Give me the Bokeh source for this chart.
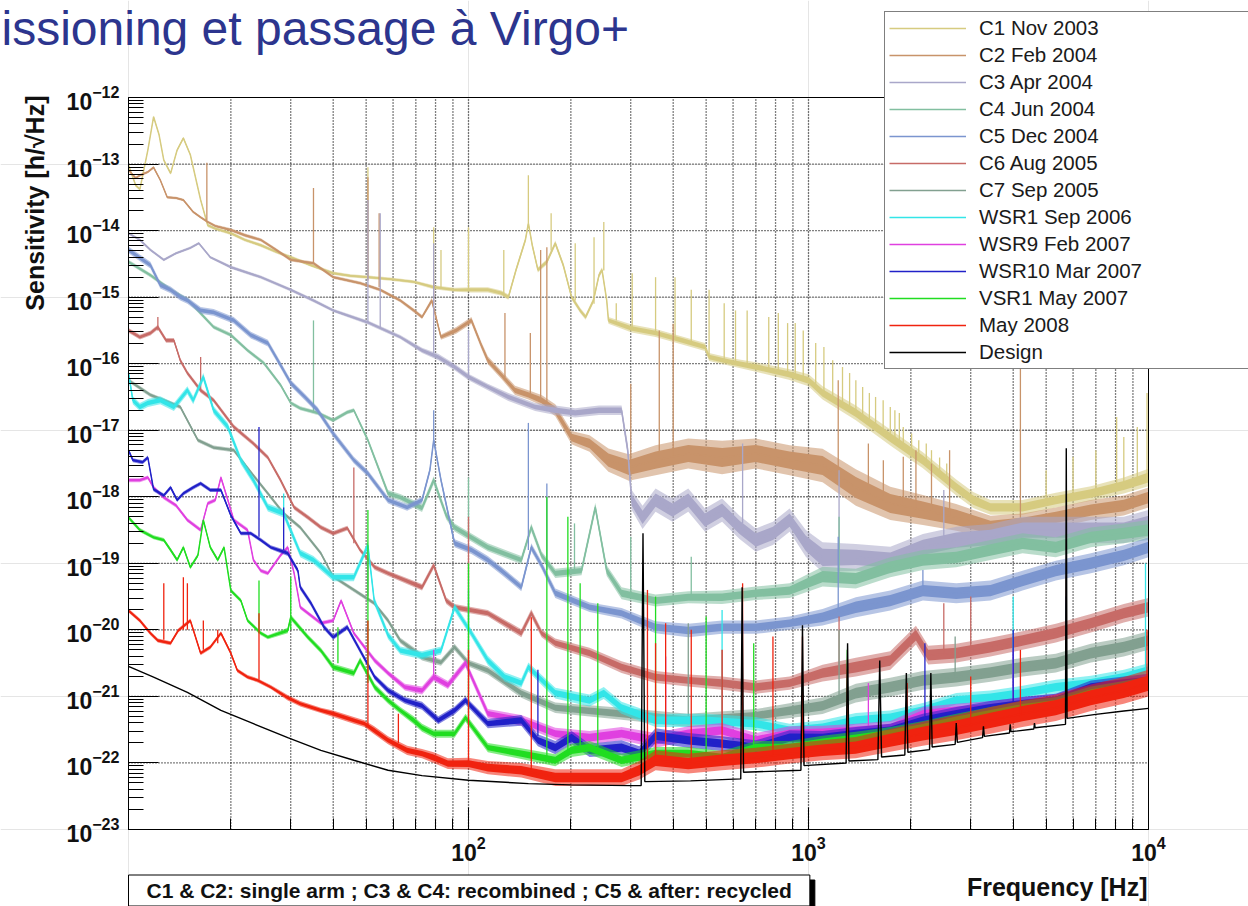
from math import pi

import numpy as np
from bokeh.embed import file_html
from bokeh.models import FixedTicker, Label, Legend, LegendItem, LogAxis, Range1d
from bokeh.plotting import figure
from bokeh.resources import INLINE

FONT = "Liberation Sans"

# ---------------------------------------------------------------------------
# Axis ticks
# ---------------------------------------------------------------------------
x_major = [100, 1000, 10000]
x_minor = [m * 10 ** e for e in (1, 2, 3) for m in range(2, 10)]
y_major = [10.0 ** e for e in range(-23, -11)]
y_minor = [m * 10.0 ** e for e in range(-23, -12) for m in range(2, 10)]
x_limits = (10, 1e4)
y_limits = (1e-23, 1e-12)

# ---------------------------------------------------------------------------
# Sensitivity curves: (frequency [Hz], log10 h, noise band width [decades])
# Spikes: (frequency [Hz], log10 h at foot, log10 h at top)
# ---------------------------------------------------------------------------
c1_trace = [
    (10, -13.02, 0.04), (10.5, -13.32, 0.04), (10.8, -13.38, 0.04), (11.4, -12.79, 0.04),
    (11.85, -12.29, 0.04), (12.3, -12.56, 0.04), (12.7, -12.94, 0.04), (13.3, -13.14, 0.04),
    (13.9, -12.79, 0.04), (14.5, -12.61, 0.04), (15.2, -12.86, 0.04), (16.3, -13.54, 0.04),
    (17.1, -13.92, 0.05), (18, -13.97, 0.05), (20, -14.04, 0.05), (22, -14.14, 0.05),
    (24.5, -14.22, 0.05), (27.2, -14.32, 0.05), (30, -14.40, 0.05), (34.4, -14.52, 0.05),
    (40, -14.64, 0.05), (45, -14.68, 0.05), (50.6, -14.70, 0.05), (59, -14.73, 0.05),
    (69, -14.77, 0.05), (79, -14.85, 0.06), (91, -14.89, 0.06), (102, -14.89, 0.08),
    (114, -14.89, 0.08), (125, -14.94, 0.08), (131, -15.00, 0.08), (138, -14.59, 0.08),
    (147, -14.14, 0.08), (150, -13.89, 0.08), (154, -14.22, 0.08), (160, -14.59, 0.08),
    (170, -14.47, 0.08), (180, -14.19, 0.08), (190, -14.52, 0.08), (201, -15.00, 0.08),
    (213, -15.20, 0.08), (221, -15.30, 0.08), (233, -15.05, 0.08), (242, -14.67, 0.08),
    (247, -14.59, 0.08), (255, -15.05, 0.08), (258, -15.35, 0.10), (302, -15.47, 0.12),
    (355, -15.54, 0.12), (425, -15.65, 0.12), (496, -15.75, 0.12), (510, -15.90, 0.12),
    (595, -15.98, 0.12), (700, -16.05, 0.14), (875, -16.16, 0.16), (1000, -16.25, 0.18),
    (1100, -16.44, 0.20), (1378, -16.74, 0.22), (1740, -17.11, 0.24), (2170, -17.45, 0.24),
    (2720, -17.86, 0.24), (3050, -18.05, 0.24), (3430, -18.16, 0.22), (4260, -18.16, 0.22),
    (5340, -18.05, 0.22), (6770, -17.95, 0.22), (8460, -17.83, 0.24), (10000, -17.71, 0.26),
]
c1_spikes = [
    (50.6, -14.70, -13.05), (79, -14.85, -13.95), (83, -14.87, -14.29), (100, -14.89, -13.95),
    (127, -14.94, -14.29), (150, -13.89, -13.17), (175, -14.30, -13.74), (206, -15.05, -14.19),
    (234, -15.10, -14.10), (250, -14.60, -13.87), (272, -15.35, -15.09), (303, -15.47, -14.64),
    (355, -15.54, -14.70), (405, -15.62, -14.70), (452, -15.70, -14.89), (510, -15.90, -14.89),
    (565, -15.95, -15.09), (610, -15.97, -15.20), (660, -16.00, -15.20), (764, -16.10, -15.30),
    (815, -16.13, -15.24), (868, -16.15, -15.39), (914, -16.18, -15.39), (965, -16.22, -15.50),
    (1050, -16.30, -15.69), (1110, -16.44, -15.75), (1178, -16.52, -15.95), (1259, -16.62, -16.05),
    (1321, -16.68, -16.14), (1378, -16.74, -16.25), (1443, -16.80, -16.35), (1510, -16.86, -16.44),
    (1575, -16.95, -16.50), (1658, -17.02, -16.55), (1740, -17.11, -16.65), (1795, -17.15, -16.70),
    (1850, -17.20, -16.74), (1900, -17.25, -16.95), (2010, -17.33, -17.05), (2110, -17.40, -17.15),
    (2220, -17.50, -17.20), (2300, -17.55, -17.30), (2430, -17.65, -17.41), (2550, -17.75, -17.50),
    (5000, -18.10, -17.60), (6000, -18.00, -17.40), (7000, -17.95, -17.30), (8060, -17.85, -16.80),
    (8460, -17.85, -17.10), (9270, -17.78, -16.95), (9900, -17.72, -16.44),
]

c2_trace = [
    (10, -13.09, 0.04), (10.5, -13.21, 0.04), (10.8, -13.17, 0.04), (11.4, -13.12, 0.04),
    (11.85, -13.05, 0.04), (12.4, -13.24, 0.04), (13.0, -13.50, 0.04), (13.8, -13.51, 0.04),
    (14.5, -13.54, 0.04), (15.5, -13.72, 0.04), (16.3, -13.80, 0.04), (17.1, -13.87, 0.04),
    (18, -13.93, 0.04), (20, -13.99, 0.05), (22, -14.07, 0.05), (24.5, -14.14, 0.05),
    (27.2, -14.29, 0.05), (30, -14.44, 0.05), (35, -14.49, 0.05), (40, -14.70, 0.05),
    (48, -14.79, 0.05), (55, -14.89, 0.05), (63, -15.05, 0.05), (69, -15.20, 0.06),
    (73, -15.30, 0.06), (78, -15.05, 0.08), (83, -15.60, 0.08), (92, -15.50, 0.10),
    (102, -15.35, 0.10), (109, -15.72, 0.10), (114, -15.95, 0.12), (125, -16.17, 0.12),
    (137, -16.40, 0.14), (150, -16.47, 0.14), (164, -16.55, 0.16), (180, -16.70, 0.18),
    (201, -17.11, 0.20), (227, -17.20, 0.25), (258, -17.45, 0.35), (296, -17.56, 0.40),
    (355, -17.45, 0.45), (443, -17.35, 0.45), (557, -17.41, 0.50), (700, -17.35, 0.45),
    (880, -17.45, 0.45), (1100, -17.53, 0.50), (1378, -17.86, 0.55), (1740, -18.10, 0.50),
    (2170, -18.20, 0.45), (2720, -18.31, 0.40), (3430, -18.46, 0.35), (4260, -18.40, 0.30),
    (5340, -18.31, 0.30), (6770, -18.20, 0.30), (8460, -18.13, 0.30), (10000, -18.01, 0.30),
]
c2_spikes = [
    (17, -13.85, -12.98), (35, -14.49, -13.36), (50.6, -14.75, -13.20), (54.6, -14.85, -13.74),
    (79, -15.10, -14.74), (128, -16.20, -15.24), (152, -16.45, -15.54), (163, -16.50, -14.29),
    (170, -16.60, -14.25), (300, -17.50, -16.30), (364, -17.40, -15.50), (400, -17.40, -15.40),
    (1223, -17.70, -16.25), (1500, -17.90, -17.20), (1660, -18.00, -17.45), (1900, -18.10, -17.40),
    (2070, -18.20, -17.30), (2300, -18.20, -17.50), (2600, -18.30, -17.30), (4200, -18.45, -15.65),
]

c3_trace = [
    (10, -14.04, 0.04), (10.8, -14.14, 0.04), (11.6, -14.29, 0.04), (12.7, -14.44, 0.04),
    (13.8, -14.34, 0.04), (15.2, -14.26, 0.04), (16.1, -14.19, 0.04), (17.4, -14.40, 0.04),
    (20, -14.55, 0.05), (24.5, -14.70, 0.05), (30, -14.89, 0.05), (35, -15.05, 0.05),
    (40, -15.20, 0.05), (50.6, -15.38, 0.06), (63, -15.60, 0.06), (73, -15.80, 0.08),
    (81.5, -15.90, 0.10), (91, -16.05, 0.10), (100, -16.20, 0.10), (114, -16.35, 0.10),
    (131, -16.50, 0.12), (157, -16.65, 0.12), (180, -16.70, 0.14), (206, -16.74, 0.14),
    (242, -16.70, 0.14), (282, -16.70, 0.14), (294, -17.30, 0.20), (302, -18.05, 0.30),
    (325, -18.31, 0.35), (355, -18.05, 0.35), (398, -18.20, 0.35), (443, -18.05, 0.35),
    (496, -18.35, 0.35), (557, -18.20, 0.35), (627, -18.46, 0.35), (700, -18.65, 0.35),
    (786, -18.55, 0.35), (880, -18.35, 0.35), (982, -18.70, 0.40), (1100, -18.91, 0.45),
    (1378, -18.91, 0.40), (1740, -18.95, 0.40), (2170, -18.76, 0.40), (2720, -18.65, 0.40),
    (3430, -18.61, 0.40), (4260, -18.50, 0.40), (5340, -18.50, 0.40), (6770, -18.50, 0.40),
    (8460, -18.50, 0.40), (10000, -18.40, 0.40),
]
c3_spikes = [
    (50.6, -15.38, -13.54), (55, -15.45, -13.74), (79, -15.85, -14.19), (100, -16.20, -15.50),
    (640, -18.40, -17.20), (1230, -18.90, -17.60), (2500, -18.70, -17.90),
]

c4_trace = [
    (10, -14.47, 0.06), (11.6, -14.67, 0.06), (13.3, -14.89, 0.06), (15, -15.05, 0.06),
    (17.8, -15.45, 0.06), (20, -15.57, 0.06), (22.4, -15.80, 0.06), (25, -15.99, 0.06),
    (28, -16.32, 0.06), (30, -16.59, 0.06), (32, -16.67, 0.06), (36, -16.74, 0.06),
    (40, -16.85, 0.06), (44, -16.73, 0.06), (46, -16.70, 0.06), (50.6, -17.15, 0.08),
    (58, -17.95, 0.10), (63, -18.01, 0.10), (73, -18.17, 0.12), (79, -17.75, 0.12),
    (86, -18.28, 0.12), (91, -18.46, 0.12), (114, -18.76, 0.12), (143, -18.95, 0.12),
    (153, -18.46, 0.12), (164, -18.88, 0.12), (180, -19.15, 0.14), (215, -19.11, 0.14),
    (236, -18.16, 0.14), (255, -19.11, 0.16), (282, -19.45, 0.18), (355, -19.56, 0.18),
    (443, -19.51, 0.18), (557, -19.51, 0.20), (700, -19.45, 0.20), (880, -19.41, 0.22),
    (1100, -19.20, 0.30), (1378, -19.23, 0.30), (1740, -19.06, 0.30), (2170, -18.95, 0.30),
    (2720, -18.91, 0.30), (3430, -18.80, 0.30), (4260, -18.70, 0.30), (5340, -18.76, 0.30),
    (6770, -18.61, 0.30), (8460, -18.55, 0.30), (10000, -18.50, 0.30),
]
c4_spikes = [
    (35, -16.74, -15.35), (100, -18.60, -17.71), (205, -19.15, -18.40), (300, -19.50, -18.60),
    (452, -19.50, -18.90), (1230, -19.20, -18.30),
]

c5_trace = [
    (10, -14.29, 0.10), (10.8, -14.41, 0.10), (11.6, -14.52, 0.10), (12.4, -14.82, 0.10),
    (13.3, -14.89, 0.10), (14.2, -15.00, 0.10), (14.9, -15.05, 0.10), (16.3, -15.20, 0.10),
    (17.8, -15.23, 0.10), (20.4, -15.35, 0.10), (22.9, -15.57, 0.10), (25.7, -15.69, 0.10),
    (28, -16.02, 0.10), (30, -16.29, 0.10), (33, -16.50, 0.10), (36, -16.70, 0.10),
    (40, -17.05, 0.10), (46, -17.45, 0.10), (50.6, -17.65, 0.10), (58, -18.05, 0.10),
    (66, -18.16, 0.10), (73, -18.05, 0.10), (77, -17.60, 0.10), (79, -17.15, 0.10),
    (83, -17.75, 0.10), (91, -18.70, 0.12), (102, -18.80, 0.12), (114, -18.95, 0.12),
    (125, -19.11, 0.12), (143, -19.36, 0.12), (153, -18.76, 0.12), (164, -19.03, 0.12),
    (180, -19.45, 0.14), (227, -19.66, 0.14), (282, -19.75, 0.16), (355, -19.96, 0.18),
    (443, -20.01, 0.20), (557, -19.96, 0.20), (700, -19.96, 0.20), (880, -19.90, 0.20),
    (1100, -19.81, 0.25), (1378, -19.66, 0.30), (1740, -19.56, 0.30), (2170, -19.41, 0.30),
    (2720, -19.45, 0.30), (3430, -19.41, 0.30), (4260, -19.26, 0.30), (5340, -19.11, 0.30),
    (6770, -19.00, 0.30), (8460, -18.88, 0.30), (10000, -18.76, 0.30),
]
c5_spikes = [
    (79, -17.20, -16.70), (150, -18.80, -16.89), (170, -19.10, -17.80), (1223, -19.75, -18.60),
    (2170, -19.40, -19.10),
]

c6_trace = [
    (10, -15.50, 0.07), (10.8, -15.60, 0.07), (11.6, -15.54, 0.07), (12.2, -15.45, 0.07),
    (12.9, -15.65, 0.07), (13.6, -15.65, 0.07), (14.2, -15.95, 0.07), (14.9, -16.14, 0.07),
    (16.3, -16.40, 0.07), (17.8, -16.55, 0.07), (20.4, -16.95, 0.07), (23.3, -17.20, 0.07),
    (25.7, -17.41, 0.07), (28, -17.75, 0.07), (30.7, -18.16, 0.07), (33.7, -18.31, 0.07),
    (36.8, -18.46, 0.07), (40, -18.55, 0.07), (44, -18.47, 0.07), (48, -18.80, 0.07),
    (53, -19.06, 0.08), (58, -19.15, 0.08), (73, -19.36, 0.10), (79, -19.03, 0.10),
    (86, -19.56, 0.10), (91, -19.66, 0.10), (114, -19.75, 0.10), (143, -20.05, 0.12),
    (153, -19.75, 0.12), (164, -20.05, 0.12), (180, -20.20, 0.14), (227, -20.35, 0.16),
    (282, -20.56, 0.18), (355, -20.71, 0.18), (443, -20.76, 0.18), (557, -20.80, 0.20),
    (700, -20.86, 0.20), (880, -20.80, 0.20), (1100, -20.65, 0.25), (1378, -20.56, 0.28),
    (1740, -20.46, 0.28), (2070, -20.08, 0.28), (2250, -20.38, 0.28), (2720, -20.35, 0.28),
    (3430, -20.26, 0.28), (4260, -20.16, 0.28), (5340, -20.05, 0.28), (6770, -19.90, 0.28),
    (8460, -19.75, 0.28), (10000, -19.66, 0.28),
]
c6_spikes = [
    (12.2, -15.50, -15.30), (16.3, -16.40, -15.90), (46, -18.70, -17.56), (100, -19.70, -18.30),
    (1230, -20.60, -19.80), (2500, -20.35, -19.60), (3000, -20.30, -19.50), (5730, -20.00, -19.20),
]

c7_trace = [
    (10, -16.25, 0.06), (11.6, -16.47, 0.06), (14.2, -16.65, 0.06), (16, -17.15, 0.06),
    (17.8, -17.26, 0.06), (20.4, -17.30, 0.06), (23.3, -17.68, 0.06), (25.7, -17.95, 0.06),
    (28.6, -18.25, 0.06), (32, -18.46, 0.06), (36.8, -18.85, 0.06), (40, -19.20, 0.06),
    (46, -19.40, 0.06), (52.8, -19.60, 0.06), (58, -19.86, 0.08), (63, -20.16, 0.08),
    (69, -20.31, 0.10), (73, -20.41, 0.10), (83, -20.49, 0.10), (91, -20.26, 0.10),
    (100, -20.50, 0.10), (114, -20.61, 0.12), (143, -20.95, 0.14), (180, -21.17, 0.16),
    (282, -21.26, 0.18), (443, -21.36, 0.20), (700, -21.29, 0.20), (1100, -21.14, 0.25),
    (1378, -20.95, 0.28), (1740, -20.86, 0.28), (2170, -20.76, 0.28), (2720, -20.71, 0.28),
    (3430, -20.64, 0.28), (4260, -20.56, 0.28), (5340, -20.50, 0.28), (6770, -20.35, 0.28),
    (8460, -20.26, 0.28), (10000, -20.16, 0.28),
]
c7_spikes = [
    (50.6, -19.50, -18.80), (100, -20.50, -19.60), (443, -21.30, -19.90), (1230, -21.00, -20.00),
    (2700, -20.70, -20.10),
]

wsr1_trace = [
    (10, -16.14, 0.12), (10.3, -16.55, 0.12), (10.8, -16.65, 0.12), (11.4, -16.59, 0.12),
    (12.4, -16.55, 0.12), (13.6, -16.65, 0.12), (14.9, -16.40, 0.12), (15.5, -16.55, 0.12),
    (16.6, -16.20, 0.12), (17.8, -16.70, 0.12), (19.6, -16.95, 0.12), (21.4, -17.45, 0.12),
    (23.3, -17.75, 0.12), (25.7, -18.16, 0.12), (28.6, -18.25, 0.12), (32, -18.85, 0.12),
    (35, -18.95, 0.12), (40, -19.21, 0.12), (46, -19.21, 0.12), (50.6, -18.73, 0.12),
    (52.8, -19.56, 0.12), (58, -20.08, 0.12), (63, -20.31, 0.12), (73, -20.38, 0.12),
    (83, -20.31, 0.12), (91, -19.66, 0.12), (102, -20.05, 0.12), (114, -20.46, 0.14),
    (128, -20.71, 0.14), (143, -20.80, 0.14), (150, -20.56, 0.14), (180, -20.95, 0.16),
    (227, -21.06, 0.18), (250, -20.95, 0.18), (282, -21.17, 0.18), (355, -21.36, 0.20),
    (496, -21.36, 0.20), (700, -21.41, 0.20), (880, -21.51, 0.20), (1100, -21.47, 0.22),
    (1378, -21.36, 0.22), (1740, -21.32, 0.22), (2170, -21.21, 0.22), (2720, -21.06, 0.22),
    (3430, -21.02, 0.22), (4260, -20.95, 0.22), (5340, -20.86, 0.22), (6770, -20.80, 0.22),
    (8460, -20.71, 0.22), (10000, -20.61, 0.22),
]
wsr1_spikes = [
    (28.6, -18.25, -17.95), (100, -20.00, -19.40), (557, -21.40, -19.70), (4000, -20.95, -19.50),
    (5730, -20.90, -19.60), (9800, -20.60, -19.00),
]

wsr9_trace = [
    (10, -17.75, 0.06), (10.8, -17.75, 0.06), (11.4, -17.71, 0.06), (11.85, -17.86, 0.06),
    (12.7, -18.01, 0.06), (13.8, -18.13, 0.06), (14.9, -18.35, 0.06), (16.3, -18.50, 0.06),
    (17.1, -18.10, 0.06), (18, -18.05, 0.06), (18.7, -17.71, 0.06), (19.6, -18.05, 0.06),
    (20.4, -18.35, 0.06), (22.4, -18.50, 0.06), (23.3, -18.95, 0.06), (24.5, -19.11, 0.06),
    (25.7, -19.15, 0.06), (28, -18.88, 0.06), (29.4, -18.76, 0.06), (30.7, -19.15, 0.06),
    (32, -19.66, 0.06), (36.8, -19.90, 0.06), (40, -19.86, 0.06), (42.2, -19.56, 0.06),
    (46, -20.05, 0.06), (53, -20.46, 0.08), (58, -20.65, 0.08), (65, -20.86, 0.10),
    (73, -20.91, 0.12), (79, -20.71, 0.12), (87, -20.83, 0.12), (98, -20.50, 0.12),
    (114, -21.26, 0.14), (143, -21.36, 0.16), (180, -21.56, 0.18), (227, -21.62, 0.20),
    (282, -21.56, 0.20), (355, -21.66, 0.22), (443, -21.56, 0.22), (557, -21.51, 0.22),
    (700, -21.66, 0.22), (880, -21.56, 0.22), (1100, -21.54, 0.20), (1378, -21.51, 0.20),
    (1740, -21.47, 0.20), (2170, -21.26, 0.20), (2720, -21.21, 0.20), (3430, -21.17, 0.20),
    (4260, -21.11, 0.20), (5340, -21.06, 0.20), (6770, -20.91, 0.20), (8460, -20.83, 0.20),
    (10000, -20.76, 0.20),
]
wsr9_spikes = [
    (79, -20.70, -20.30), (380, -21.60, -20.40), (1500, -21.50, -20.80), (4000, -21.10, -20.30),
]

wsr10_trace = [
    (10, -17.30, 0.06), (10.3, -17.45, 0.06), (11, -17.48, 0.06), (11.4, -17.41, 0.06),
    (11.85, -17.89, 0.06), (12.7, -17.98, 0.06), (13.3, -17.86, 0.06), (13.9, -18.05, 0.06),
    (14.5, -17.95, 0.06), (15.5, -17.86, 0.06), (16.3, -17.80, 0.06), (17.4, -17.90, 0.06),
    (18.7, -17.90, 0.06), (20, -18.28, 0.06), (21.4, -18.55, 0.06), (22.9, -18.55, 0.06),
    (24.5, -18.65, 0.06), (26.2, -18.76, 0.06), (29.4, -18.85, 0.08), (31.5, -19.11, 0.08),
    (32, -19.36, 0.08), (34.4, -19.60, 0.08), (37.6, -19.96, 0.08), (40, -20.11, 0.08),
    (44, -19.96, 0.08), (48, -20.31, 0.08), (53, -20.71, 0.08), (58, -20.91, 0.10),
    (65, -21.06, 0.10), (73, -21.14, 0.12), (81.5, -21.36, 0.12), (91, -21.21, 0.12),
    (98, -21.06, 0.12), (114, -21.41, 0.14), (143, -21.36, 0.16), (160, -21.66, 0.18),
    (180, -21.77, 0.20), (201, -21.62, 0.20), (227, -21.81, 0.20), (282, -21.77, 0.22),
    (318, -21.86, 0.22), (355, -21.59, 0.22), (443, -21.66, 0.22), (557, -21.71, 0.22),
    (700, -21.77, 0.22), (880, -21.62, 0.22), (1100, -21.62, 0.20), (1378, -21.56, 0.20),
    (1740, -21.51, 0.20), (2170, -21.36, 0.20), (2720, -21.26, 0.20), (3430, -21.17, 0.20),
    (4260, -21.11, 0.20), (5340, -21.06, 0.20), (6770, -20.86, 0.20), (8460, -20.80, 0.20),
    (10000, -20.76, 0.20),
]
wsr10_spikes = [
    (24.2, -18.60, -16.95), (28.6, -18.80, -18.16), (160, -21.60, -20.60), (2200, -21.30, -20.20),
    (4000, -21.10, -20.00), (5730, -21.00, -19.50),
]

vsr1_trace = [
    (10, -18.31, 0.06), (10.8, -18.50, 0.06), (11.85, -18.61, 0.06), (12.7, -18.65, 0.06),
    (13.3, -18.80, 0.06), (13.9, -18.95, 0.06), (14.5, -18.76, 0.06), (15.2, -19.06, 0.06),
    (16, -18.88, 0.06), (16.6, -18.35, 0.06), (17.4, -18.76, 0.06), (18.3, -18.95, 0.06),
    (19.1, -18.76, 0.06), (20, -19.41, 0.06), (21.4, -19.56, 0.06), (22.4, -19.86, 0.06),
    (24.5, -20.05, 0.06), (25.7, -20.11, 0.06), (29.4, -20.01, 0.08), (30, -19.81, 0.08),
    (33.7, -20.11, 0.08), (36.8, -20.31, 0.08), (40, -20.56, 0.10), (46, -20.65, 0.10),
    (48, -20.46, 0.10), (53, -20.86, 0.10), (58, -21.06, 0.10), (63, -21.21, 0.10),
    (69, -21.36, 0.12), (73, -21.47, 0.12), (79, -21.56, 0.12), (91, -21.56, 0.12),
    (98, -21.32, 0.12), (114, -21.77, 0.14), (143, -21.86, 0.16), (180, -21.96, 0.18),
    (201, -21.81, 0.20), (227, -21.77, 0.20), (282, -21.96, 0.20), (355, -21.86, 0.20),
    (443, -21.86, 0.20), (557, -21.92, 0.20), (700, -21.77, 0.20), (880, -21.77, 0.20),
    (1100, -21.69, 0.20), (1378, -21.63, 0.20), (1740, -21.56, 0.20), (2170, -21.47, 0.20),
    (2720, -21.36, 0.20), (3430, -21.26, 0.20), (4260, -21.17, 0.20), (5340, -21.11, 0.20),
    (6770, -20.95, 0.20), (8460, -20.87, 0.20), (10000, -20.80, 0.20),
]
vsr1_spikes = [
    (24.2, -20.05, -19.26), (30, -20.00, -19.21), (41.3, -20.50, -19.96), (50.6, -20.80, -18.20),
    (100, -21.40, -19.00), (170, -21.90, -18.00), (196, -21.90, -18.30), (213, -21.80, -19.30),
    (240, -21.80, -19.60), (355, -21.90, -19.50), (500, -21.90, -19.80), (690, -21.80, -20.20),
    (1300, -21.60, -20.30),
]

may08_trace = [
    (10, -19.71, 0.06), (10.8, -19.86, 0.06), (11.6, -20.05, 0.06), (12.2, -20.16, 0.06),
    (13.3, -20.20, 0.06), (14, -20.01, 0.06), (15.2, -19.86, 0.06), (16.3, -20.35, 0.06),
    (17.4, -20.26, 0.06), (18.7, -20.05, 0.06), (20, -20.35, 0.06), (20.9, -20.61, 0.06),
    (22.4, -20.71, 0.06), (24, -20.76, 0.06), (26.2, -20.86, 0.06), (29.4, -21.02, 0.08),
    (32, -21.11, 0.08), (36.8, -21.21, 0.08), (40, -21.26, 0.10), (46, -21.36, 0.10),
    (49.4, -21.41, 0.10), (52.8, -21.51, 0.12), (58, -21.66, 0.12), (66, -21.81, 0.14),
    (73, -21.86, 0.14), (79, -21.92, 0.16), (87, -22.01, 0.16), (100, -22.01, 0.18),
    (114, -22.07, 0.20), (143, -22.11, 0.22), (180, -22.22, 0.25), (227, -22.22, 0.25),
    (282, -22.22, 0.25), (318, -22.11, 0.28), (355, -21.96, 0.30), (443, -22.01, 0.30),
    (557, -21.96, 0.30), (700, -21.92, 0.30), (880, -21.86, 0.30), (1100, -21.81, 0.30),
    (1378, -21.77, 0.32), (1740, -21.66, 0.34), (2170, -21.56, 0.36), (2720, -21.47, 0.38),
    (3430, -21.36, 0.40), (4260, -21.26, 0.40), (5340, -21.17, 0.40), (6770, -21.02, 0.40),
    (8460, -20.91, 0.40), (10000, -20.80, 0.40),
]
may08_spikes = [
    (12.7, -20.15, -19.30), (14.5, -20.00, -19.21), (14.9, -20.00, -19.30), (16.6, -20.30, -19.86),
    (18.3, -20.20, -20.00), (24.2, -20.75, -19.75), (50.6, -21.45, -19.86), (62.2, -21.70, -21.26),
    (100, -22.00, -20.30), (153, -22.10, -19.81), (336, -22.00, -19.40), (355, -21.96, -20.20),
    (380, -22.00, -19.90), (452, -22.00, -20.00), (557, -21.96, -20.30), (640, -21.93, -19.30),
    (786, -21.90, -20.10), (960, -21.85, -20.10), (1300, -21.77, -20.60), (1950, -21.60, -20.80),
    (3000, -21.45, -20.70), (4200, -21.30, -20.30), (5730, -21.15, -19.90), (9900, -20.80, -20.00),
]

# Design curve: (frequency [Hz], log10 h)
design_trace = [
    (10, -20.55), (11.85, -20.71), (14.9, -20.94), (18.7, -21.21), (23.3, -21.41),
    (29.4, -21.62), (36.8, -21.81), (46, -21.96), (58, -22.11), (73, -22.19), (100, -22.26),
    (150, -22.31), (200, -22.33), (300, -22.34), (322, -22.34), (326, -18.55), (330, -22.28),
    (450, -22.27), (632, -22.24), (638, -19.36), (644, -22.14), (950, -22.11), (960, -19.93),
    (970, -22.04), (1290, -22.00), (1303, -20.20), (1315, -21.97), (1600, -21.95),
    (1620, -20.46), (1640, -21.91), (1920, -21.88), (1940, -20.65), (1960, -21.84),
    (2270, -21.80), (2290, -20.65), (2310, -21.76), (2700, -21.72), (2720, -21.40),
    (2740, -21.69), (3250, -21.62), (3270, -21.45), (3290, -21.60), (3900, -21.55),
    (3920, -21.42), (3940, -21.53), (4600, -21.49), (4620, -21.40), (4640, -21.47),
    (5700, -21.42), (5730, -17.27), (5760, -21.33), (7000, -21.27), (8460, -21.22),
    (10000, -21.18),
]

series_names = [
    "C1 Nov 2003", "C2 Feb 2004", "C3 Apr 2004", "C4 Jun 2004", "C5 Dec 2004",
    "C6 Aug 2005", "C7 Sep 2005", "WSR1 Sep 2006", "WSR9 Feb 2007", "WSR10 Mar 2007",
    "VSR1 May 2007", "May 2008",
]
series_colors = [
    "#d6cb80", "#c8936a", "#a9a7c9", "#82bfa0", "#7b95cf", "#c76b67", "#82a090",
    "#33e5e8", "#e040e0", "#2121c8", "#21dd21", "#f0230f",
]
series_traces = [
    c1_trace, c2_trace, c3_trace, c4_trace, c5_trace, c6_trace, c7_trace,
    wsr1_trace, wsr9_trace, wsr10_trace, vsr1_trace, may08_trace,
]
series_spikes = [
    c1_spikes, c2_spikes, c3_spikes, c4_spikes, c5_spikes, c6_spikes, c7_spikes,
    wsr1_spikes, wsr9_spikes, wsr10_spikes, vsr1_spikes, may08_spikes,
]

# ---------------------------------------------------------------------------
# Page geometry: the frame fills the whole canvas; the plotting box sits inside
# ---------------------------------------------------------------------------
W, H = 1248, 906
BOX_L, BOX_R, BOX_T, BOX_B = 128, 1148, 97, 829
px_per_dec_x = (BOX_R - BOX_L) / 3.0
px_per_dec_y = (BOX_B - BOX_T) / 11.0
x_view = (10 ** (1 - BOX_L / px_per_dec_x), 10 ** (4 + (W - BOX_R) / px_per_dec_x))
y_view = (10 ** (-23 - (H - BOX_B) / px_per_dec_y), 10 ** (-12 + BOX_T / px_per_dec_y))

p = figure(
    width=W, height=H,
    x_axis_type="log", y_axis_type="log",
    x_axis_location=None, y_axis_location=None,
    x_range=Range1d(*x_view), y_range=Range1d(*y_view),
    output_backend="svg", toolbar_location=None, min_border=0,
)
p.background_fill_color = "white"
p.border_fill_color = "white"
p.outline_line_color = None

# Dotted grid inside the plotting box
x_grid = sorted(x_minor + x_major[:-1])
p.segment(x0=x_grid, y0=[y_limits[0]] * len(x_grid), x1=x_grid, y1=[y_limits[1]] * len(x_grid),
          line_color="#000000", line_width=1.3, line_dash="1 2")
y_grid = y_major[1:-1]
p.segment(x0=[x_limits[0]] * len(y_grid), y0=y_grid, x1=[x_limits[1]] * len(y_grid), y1=y_grid,
          line_color="#000000", line_width=1.3, line_dash="1 2")


def draw_series(trace, spikes, color, width):
    f = np.array([t[0] for t in trace], dtype=float)
    c = np.array([t[1] for t in trace], dtype=float)
    s = np.array([t[2] for t in trace], dtype=float)
    # pale outer envelope of the noise, solid inner core
    p.varea(x=f, y1=10.0 ** (c - s / 2), y2=10.0 ** (c + s / 2), fill_color=color, fill_alpha=0.55)
    p.varea(x=f, y1=10.0 ** (c - s / 3.5), y2=10.0 ** (c + s / 3.5), fill_color=color, fill_alpha=1.0)
    if spikes:
        sf = [t[0] for t in spikes]
        p.segment(x0=sf, y0=[10.0 ** t[1] for t in spikes], x1=sf, y1=[10.0 ** t[2] for t in spikes],
                  line_color=color, line_width=1.3)
    return p.line(f, 10.0 ** c, line_color=color, line_width=width)


legend_items = []
for name, color, trace, spikes in zip(series_names, series_colors, series_traces, series_spikes):
    r = draw_series(trace, spikes, color, 1.5)
    legend_items.append(LegendItem(label=name, renderers=[r]))

df = np.array([t[0] for t in design_trace], dtype=float)
dh = np.array([t[1] for t in design_trace], dtype=float)
r_design = p.line(df, 10.0 ** dh, line_color="black", line_width=1.4)
legend_items.append(LegendItem(label="Design", renderers=[r_design]))

# Box around the plotting area
p.line(x=[x_limits[0], x_limits[1], x_limits[1], x_limits[0], x_limits[0]],
       y=[y_limits[0], y_limits[0], y_limits[1], y_limits[1], y_limits[0]],
       line_color="black", line_width=1)

# Axes pinned to the edges of the plotting box
xa = LogAxis(ticker=FixedTicker(ticks=x_major, minor_ticks=x_minor),
             fixed_location=y_limits[0], bounds=x_limits)
ya = LogAxis(ticker=FixedTicker(ticks=y_major, minor_ticks=y_minor),
             fixed_location=x_limits[0], bounds=y_limits)
for ax in (xa, ya):
    ax.axis_line_color = "black"
    ax.major_tick_line_color = "black"
    ax.minor_tick_line_color = "black"
    ax.major_tick_out = 0
    ax.minor_tick_out = 0
    ax.major_label_text_font = FONT
    ax.major_label_text_font_style = "bold"
    ax.major_label_text_font_size = "23px"
    ax.major_label_text_color = "#111111"
xa.major_tick_in = 22
xa.minor_tick_in = 11
xa.major_label_standoff = 6
ya.major_tick_in = 30
ya.minor_tick_in = 15
ya.major_label_standoff = 9
p.add_layout(xa, "below")
p.add_layout(ya, "left")

legend = Legend(
    items=legend_items, location=(884, H - 369), orientation="vertical",
    border_line_color="black", border_line_width=1,
    background_fill_color="white", background_fill_alpha=1.0,
    label_text_font=FONT, label_text_font_size="20.5px", label_text_color="#1a1a1a",
    glyph_width=77, glyph_height=24, label_height=24, label_width=300,
    label_standoff=13, spacing=3, padding=4, margin=0,
)
p.add_layout(legend)

# ---------------------------------------------------------------------------
# Texts (screen units measured from the bottom-left corner of the canvas)
# ---------------------------------------------------------------------------
p.add_layout(Label(
    x=1, y=H - 28, x_units="screen", y_units="screen",
    text="issioning et passage à Virgo+", text_font=FONT, text_font_size="48px",
    text_color="#2c358e", text_align="left", text_baseline="middle",
))
p.add_layout(Label(
    x=34, y=H - 95, x_units="screen", y_units="screen", angle=pi / 2,
    text="Sensitivity [h/√Hz]", text_font=FONT, text_font_size="25px",
    text_font_style="bold", text_color="#111111", text_align="right",
    text_baseline="middle",
))
p.add_layout(Label(
    x=1147, y=H - 886, x_units="screen", y_units="screen",
    text="Frequency [Hz]", text_font=FONT, text_font_size="25px",
    text_font_style="bold", text_color="#111111", text_align="right",
    text_baseline="middle",
))
caption = "C1 & C2: single arm ; C3 & C4: recombined ; C5 & after: recycled"
p.add_layout(Label(
    x=BOX_L + 5, y=H - 895, x_units="screen", y_units="screen", text=caption,
    text_font=FONT, text_font_size="21px", text_font_style="bold", text_color="black",
    text_align="left", text_baseline="middle", padding=(18, 4),
    background_fill_color="black", border_line_color="black",
))
p.add_layout(Label(
    x=BOX_L, y=H - 890, x_units="screen", y_units="screen", text=caption,
    text_font=FONT, text_font_size="21px", text_font_style="bold", text_color="#111111",
    text_align="left", text_baseline="middle", padding=(18, 4),
    background_fill_color="white", border_line_color="black", border_line_width=1,
))

open("out.html", "w").write(file_html(p, INLINE))
